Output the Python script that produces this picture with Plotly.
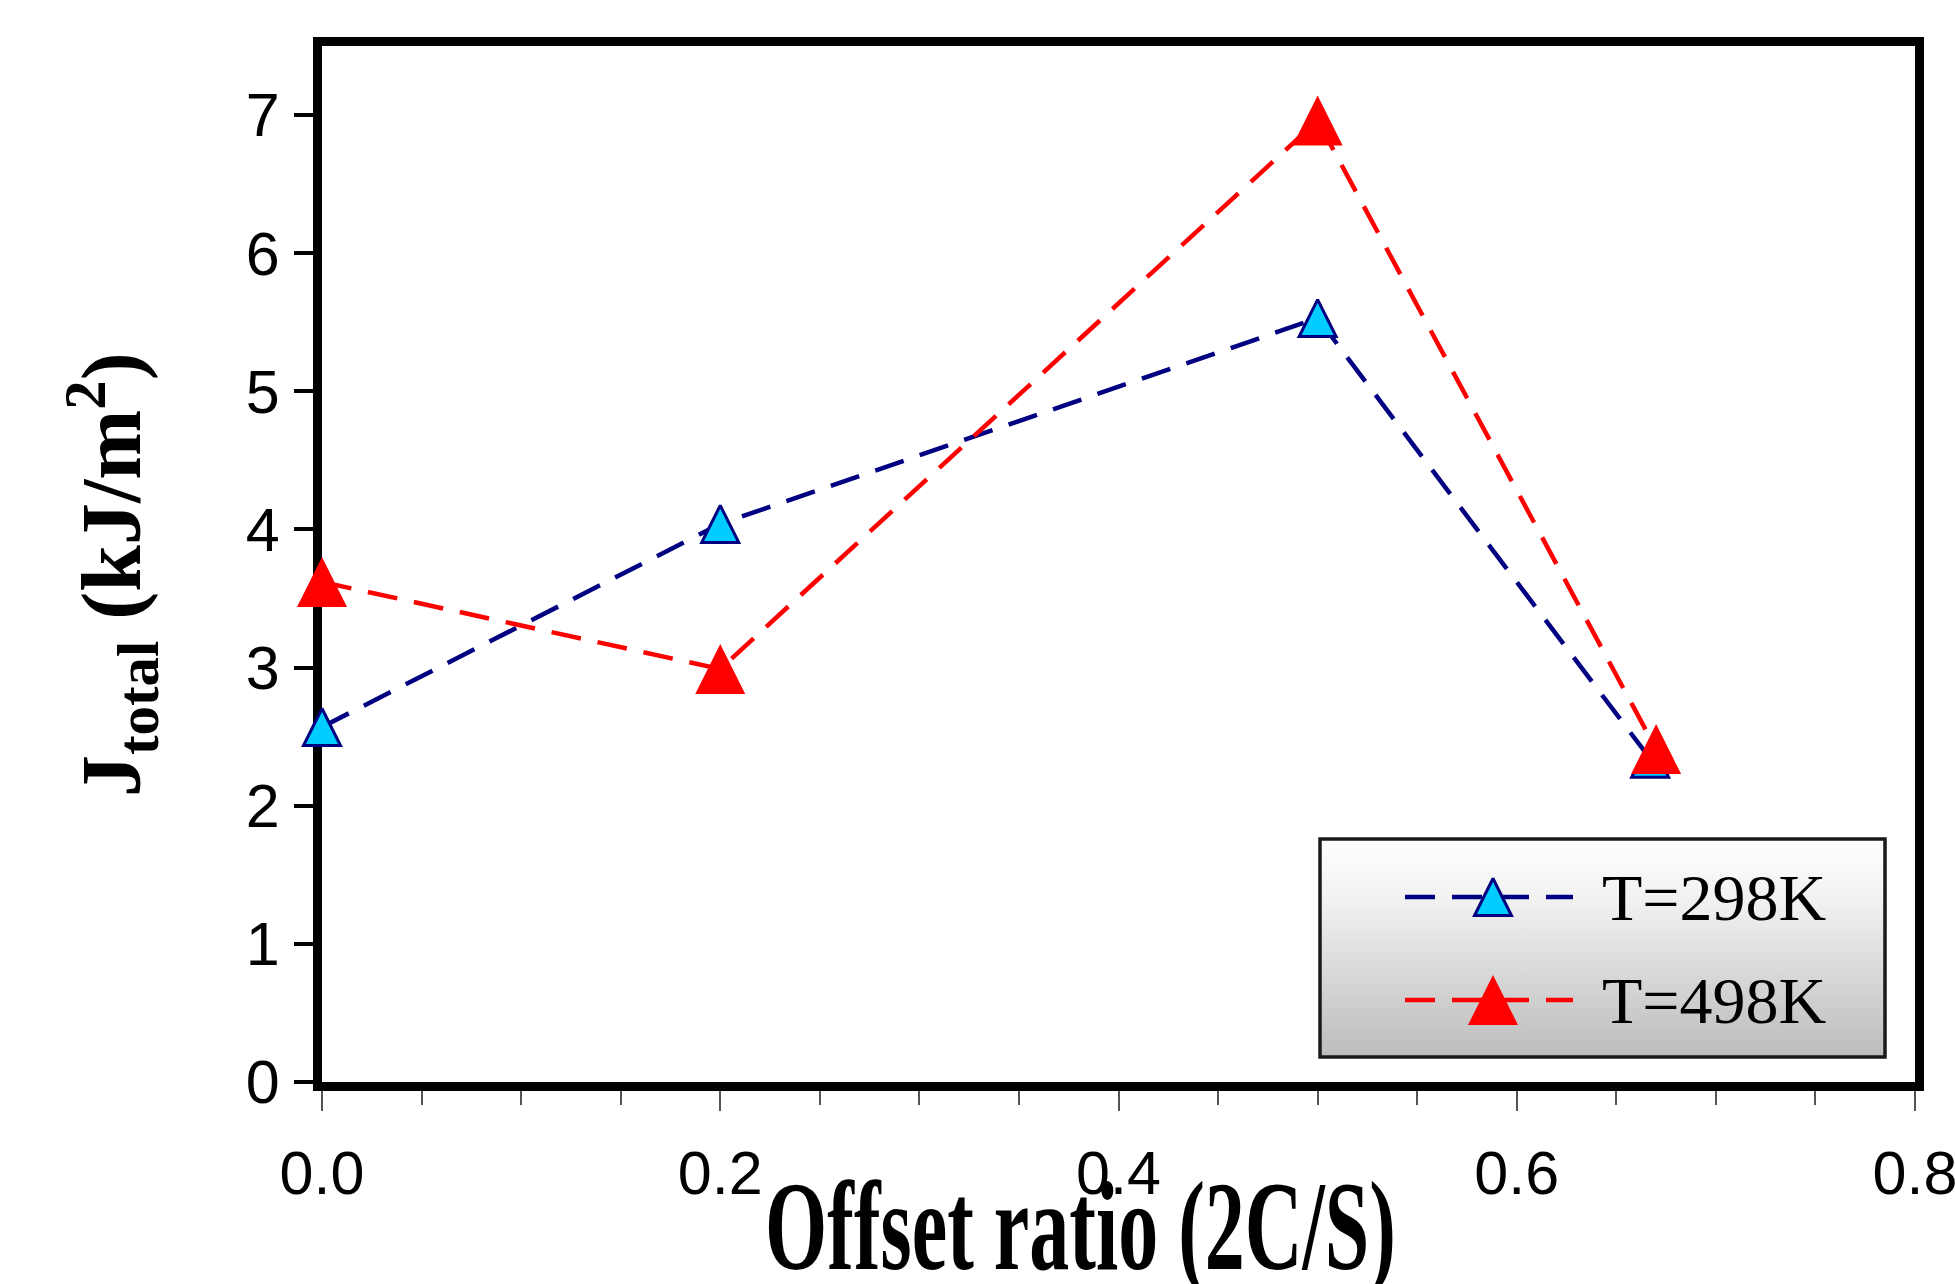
import plotly.graph_objects as go

# ---- data -------------------------------------------------------------
offset_298 = [0.0, 0.2, 0.5, 0.667]
jtotal_298 = [2.57, 4.04, 5.53, 2.34]
offset_498 = [0.0, 0.2, 0.5, 0.67]
jtotal_498 = [3.62, 2.99, 6.96, 2.41]
series_names = ["T=298K", "T=498K"]
x_tick_vals = [0.0, 0.2, 0.4, 0.6, 0.8]
y_tick_vals = [0, 1, 2, 3, 4, 5, 6, 7]

# ---- page geometry (pixels) -------------------------------------------
W, H = 1955, 1284
ML, MR, MT, MB = 322, 40, 46, 202
PW, PH = W - ML - MR, H - MT - MB


def paper_x(px):
    return (px - ML) / PW


def paper_y(py):
    return (H - MB - py) / PH


# legend box in page pixels
LG_L, LG_R, LG_T, LG_B = 1320, 1885, 839, 1057
LG_W, LG_H = LG_R - LG_L, LG_B - LG_T

NAVY = "#000080"
CYAN = "#00CCFF"
RED = "#FF0000"
DASH = "30px,17px"

SANS = "Liberation Sans, Arial, sans-serif"
SERIF = "Liberation Serif, Times New Roman, serif"

blue_marker = dict(symbol="arrow-down", angle=180, size=37, standoff=18.5,
                   color=CYAN, line=dict(color=NAVY, width=3))
red_marker = dict(symbol="arrow-down", angle=180, size=50, standoff=25,
                  color=RED, line=dict(width=0))

fig = go.Figure()

# ---- legend background (gradient box on its own hidden axes) ----------
fig.add_trace(go.Scatter(
    x=[0, LG_W, LG_W, 0, 0], y=[0, 0, LG_H, LG_H, 0],
    xaxis="x2", yaxis="y2", mode="none", fill="toself",
    fillgradient=dict(type="vertical", start=0, stop=LG_H,
                      colorscale=[[0, "#bcbcbc"], [0.7, "#f0f0f0"], [1, "#ffffff"]]),
    hoverinfo="skip", showlegend=False,
))

# ---- data series -------------------------------------------------------
fig.add_trace(go.Scatter(
    x=offset_298, y=jtotal_298, name=series_names[0], mode="lines+markers",
    line=dict(color=NAVY, width=4.5, dash=DASH), marker=blue_marker,
    cliponaxis=False, showlegend=False,
))
fig.add_trace(go.Scatter(
    x=offset_498, y=jtotal_498, name=series_names[1], mode="lines+markers",
    line=dict(color=RED, width=4.5, dash=DASH), marker=red_marker,
    cliponaxis=False, showlegend=False,
))

# ---- legend keys -------------------------------------------------------
key_x0, key_x1, key_mid, text_x = 85, 253, 173, 280
row_y = [LG_B - 897, LG_B - 1000]
for name, col, mk, ry in zip(series_names, [NAVY, RED], [blue_marker, red_marker], row_y):
    fig.add_trace(go.Scatter(
        x=[key_x0, key_x1], y=[ry, ry], xaxis="x2", yaxis="y2", mode="lines",
        line=dict(color=col, width=4.5, dash=DASH), hoverinfo="skip", showlegend=False,
    ))
    fig.add_trace(go.Scatter(
        x=[key_mid], y=[ry], xaxis="x2", yaxis="y2", mode="markers",
        marker=mk, cliponaxis=False, hoverinfo="skip", showlegend=False,
    ))
    fig.add_annotation(
        x=text_x, y=ry, xref="x2", yref="y2", xanchor="left", yanchor="middle",
        text=name, showarrow=False, font=dict(family=SERIF, size=66, color="black"),
    )

# ---- axis titles ------------------------------------------------------
fig.add_annotation(
    x=paper_x(1080), y=paper_y(1226), xref="paper", yref="paper",
    xanchor="center", yanchor="middle", showarrow=False,
    text="<b>Offset ratio (2C/S)</b>",
    font=dict(family=SERIF, size=80, color="black"),
)
fig.add_annotation(
    x=paper_x(112), y=paper_y(575), xref="paper", yref="paper",
    xanchor="center", yanchor="middle", showarrow=False, textangle=-90,
    text="<b>J<sub>total</sub> (kJ/m<sup>2</sup>)</b>",
    font=dict(family=SERIF, size=84, color="black"),
)

# legend frame
fig.add_shape(type="rect", xref="paper", yref="paper",
              x0=paper_x(LG_L), x1=paper_x(LG_R), y0=paper_y(LG_B), y1=paper_y(LG_T),
              line=dict(color="#1a1a1a", width=3.5), layer="above")

fig.update_layout(
    width=W, height=H, template="none",
    margin=dict(l=ML, r=MR, t=MT, b=MB, pad=0),
    paper_bgcolor="white", plot_bgcolor="white",
    showlegend=False,
    xaxis=dict(
        range=[0, 0.8], tickvals=x_tick_vals, tickformat=".1f",
        ticks="outside", ticklen=20, tickwidth=1.5, tickcolor="#555555",
        minor=dict(dtick=0.05, tick0=0, ticks="outside", ticklen=14,
                   tickwidth=1.5, tickcolor="#555555"),
        showline=True, linewidth=9, linecolor="black", mirror=True,
        showgrid=False, zeroline=False, automargin=False, layer="below traces",
        tickfont=dict(family=SANS, size=61, color="black"), ticklabelstandoff=10,
        ticklabeloverflow="allow",
    ),
    yaxis=dict(
        range=[0, 7.5], tickvals=y_tick_vals,
        ticks="outside", ticklen=19, tickwidth=4, tickcolor="black",
        showline=True, linewidth=9, linecolor="black", mirror=True,
        showgrid=False, zeroline=False, automargin=False, layer="below traces",
        tickfont=dict(family=SANS, size=61, color="black"), ticklabelstandoff=2,
        ticklabeloverflow="allow",
    ),
    xaxis2=dict(domain=[paper_x(LG_L), paper_x(LG_R)], range=[0, LG_W],
                anchor="y2", visible=False, fixedrange=True),
    yaxis2=dict(domain=[paper_y(LG_B), paper_y(LG_T)], range=[0, LG_H],
                anchor="x2", visible=False, fixedrange=True),
)

# the x-axis title is set in a tall, narrow letterform
stretch_js = """
var gd = document.getElementById('{plot_id}');
var t = gd.querySelector('g.annotation[data-index="2"] text');
if (t) {
  t.style.transformBox = 'fill-box';
  t.style.transformOrigin = 'center';
  t.style.transform = 'scaleY(1.58)';
}
"""

fig.write_html("out.html", post_script=stretch_js)
